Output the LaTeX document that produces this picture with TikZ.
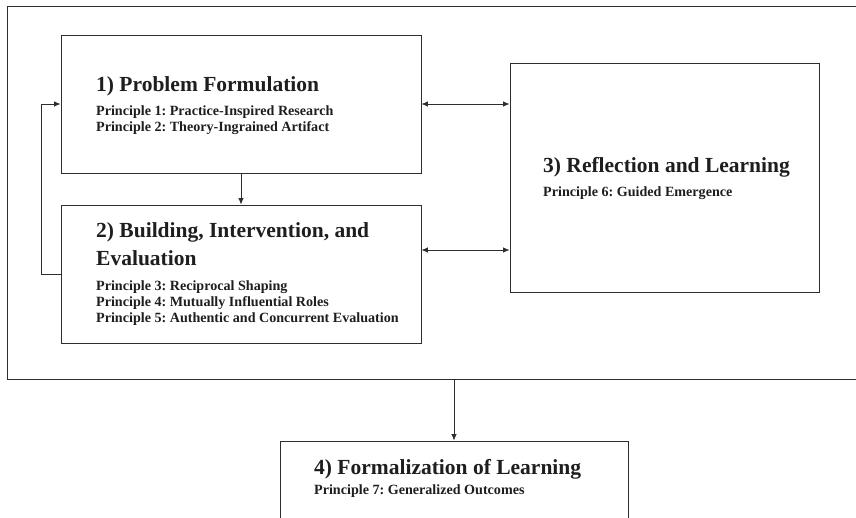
\documentclass[tikz,border=0pt]{standalone}
\usepackage{fontspec}
\setmainfont{Liberation Serif}
\usetikzlibrary{arrows.meta}
\frenchspacing

\definecolor{ink}{HTML}{1E1E1E}
\definecolor{rule}{HTML}{2E2E2E}

\tikzset{
  x=1pt, y=-1pt,
  stagebox/.style={draw=rule, line width=0.9pt, inner sep=0pt, fill=white},
  frame/.style={draw=rule, line width=0.9pt, inner sep=0pt},
  tip/.style={Latex[length=6.5pt,width=5.5pt]},
  flow/.style={draw=rule, line width=0.8pt, -{Latex[length=6.5pt,width=5.5pt]}},
  twoway/.style={draw=rule, line width=0.8pt, {Latex[length=6.5pt,width=5.5pt]}-{Latex[length=6.5pt,width=5.5pt]}},
  title/.style={anchor=base west, inner sep=0pt, text=ink, align=left,
    font=\fontsize{21.5}{27.5}\selectfont\bfseries},
  principles/.style={anchor=base west, inner sep=0pt, text=ink, align=left,
    font=\fontsize{14.1}{16}\selectfont\bfseries},
}

\begin{document}
\begin{tikzpicture}
\useasboundingbox (0,0) rectangle (856,517);
\clip (0,0) rectangle (856,517);
\fill[white] (0,0) rectangle (856,517);

% outer cycle frame (runs past the right and lower page edges)
\node[frame, minimum width=880pt, minimum height=373pt] (cycle) at (447,192.5) {};

% stage boxes
\node[stagebox, minimum width=360pt, minimum height=138pt] (pf) at (241,104) {};
\node[stagebox, minimum width=360pt, minimum height=138pt] (bie) at (241,274) {};
\node[stagebox, minimum width=309pt, minimum height=229pt] (rl) at (664.5,177.5) {};
\node[stagebox, minimum width=348pt, minimum height=100pt] (fl) at (454,491) {};

% box texts
\node[title] (pftitle) at (96,91.7) {1) Problem Formulation};
\node[principles] (pfp1) at (96,115.7) {Principle 1: Practice-Inspired Research};
\node[principles] (pfp2) at (96,131.7) {Principle 2: Theory-Ingrained Artifact};

\node[title] (bietitle1) at (96,237.7) {2) Building, Intervention, and};
\node[title] (bietitle2) at (96,265) {Evaluation};
\node[principles] (biep3) at (96,290.7) {Principle 3: Reciprocal Shaping};
\node[principles] (biep4) at (96,306.7) {Principle 4: Mutually Influential Roles};
\node[principles] (biep5) at (96,322.7) {Principle 5: Authentic and Concurrent Evaluation};

\node[title] (rltitle) at (543,172.7) {3) Reflection and Learning};
\node[principles] (rlp6) at (543,196) {Principle 6: Guided Emergence};

\node[title] (fltitle) at (314,474.3) {4) Formalization of Learning};
\node[principles] (flp7) at (314,494.3) {Principle 7: Generalized Outcomes};

% connectors
\coordinate (loop) at (41,0);
\coordinate (lowlink) at (0,250);
\draw[flow] (pf.south) -- (bie.north);
\draw[twoway] (pf.east) -- (pf.east -| rl.west);
\draw[twoway] (bie.east |- lowlink) -- (rl.west |- lowlink);
\draw[flow] (bie.west) -- (bie.west -| loop) -- (pf.west -| loop) -- (pf.west);
\draw[flow] (cycle.south -| fl.north) -- (fl.north);
\end{tikzpicture}
\end{document}
